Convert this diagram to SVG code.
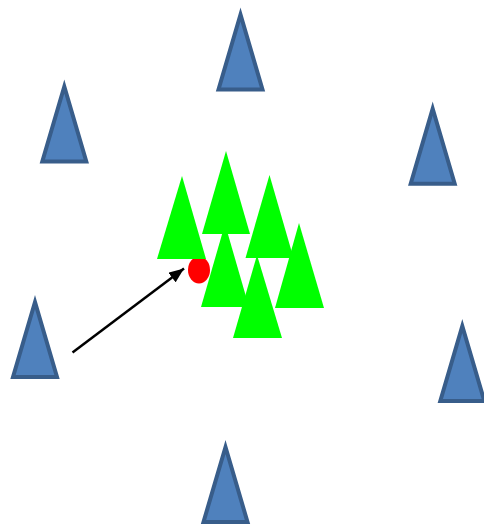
<svg xmlns="http://www.w3.org/2000/svg" width="484" height="524" viewBox="0 0 484 524">
<style>
.blue{fill:#4F81BD;stroke:#385D8A;stroke-width:4}
.green{fill:#00FF00}
.conn{stroke:#000;stroke-width:2.5;fill:none}
</style>
<defs>
<path id="bt" d="M0,0 L22,75 L-22,75 Z"/>
<marker id="ah" markerWidth="15" markerHeight="12" refX="15" refY="6" orient="auto" markerUnits="userSpaceOnUse" viewBox="0 0 15 12">
<path d="M0,0 L15,6 L0,12 Z" fill="#000"/>
</marker>
</defs>
<rect width="484" height="524" fill="#fff"/>
<g id="blue-top"><use href="#bt" class="blue" transform="translate(240.5,14.5)"/></g>
<g id="blue-upper-left"><use href="#bt" class="blue" transform="translate(64.3,86.5)"/></g>
<g id="blue-upper-right"><use href="#bt" class="blue" transform="translate(432.7,108.7)"/></g>
<g id="blue-left"><use href="#bt" class="blue" transform="translate(35,302)"/></g>
<g id="blue-bottom"><use href="#bt" class="blue" transform="translate(225.5,447)"/></g>
<g id="blue-right"><use href="#bt" class="blue" transform="translate(462.3,326)"/></g>
<g id="red-dot"><ellipse cx="199" cy="270" rx="11" ry="13.5" fill="#FF0000"/></g>
<g id="green-1"><polygon class="green" points="182,176 206,259 157,259"/></g>
<g id="green-4"><polygon class="green" points="225,224 249,307 201,307"/></g>
<g id="green-2"><polygon class="green" points="226,151 250,234 202,234"/></g>
<g id="green-3"><polygon class="green" points="269.5,175 293.5,258 245.5,258"/></g>
<g id="green-5"><polygon class="green" points="299,223 324,308 275,308"/></g>
<g id="green-6"><polygon class="green" points="257,255 282,338 233,338"/></g>
<g id="connectors">
<line class="conn" x1="72.5" y1="352.5" x2="184" y2="268.5" marker-end="url(#ah)"/>
</g>
</svg>
